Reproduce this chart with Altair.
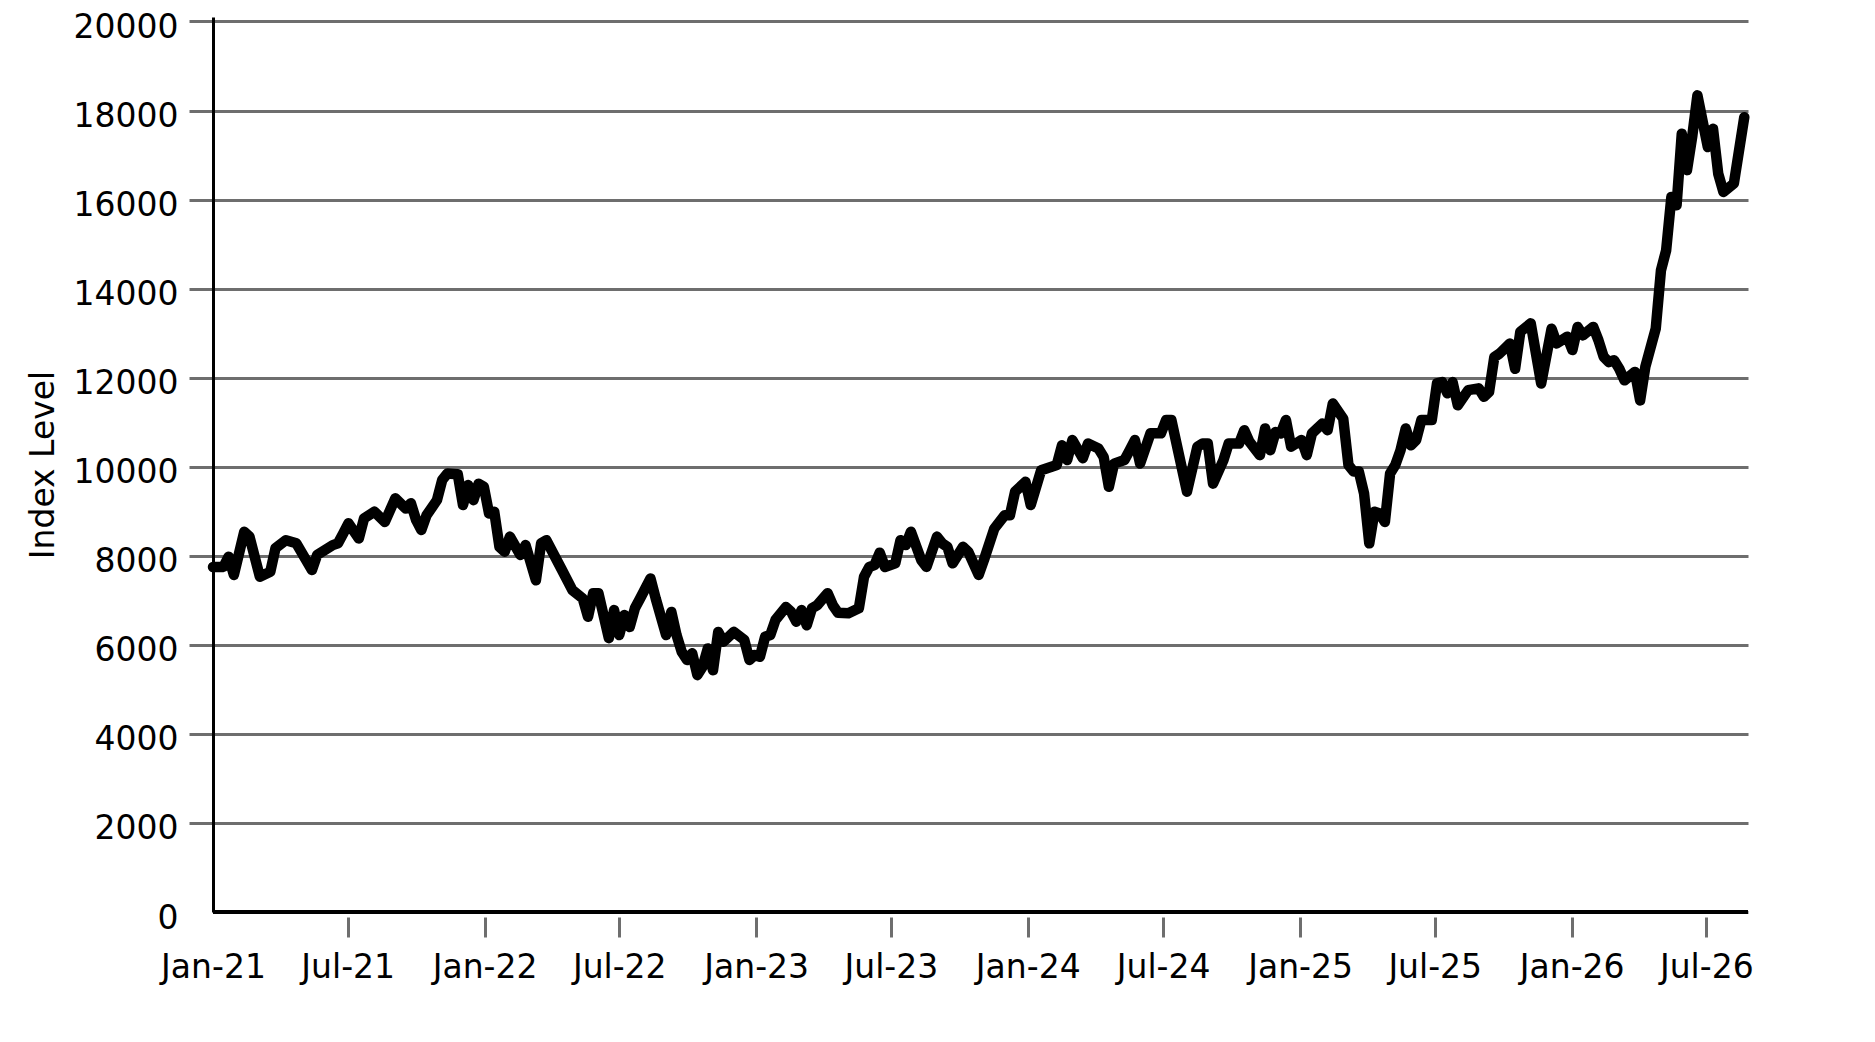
import altair as alt
import pandas as pd

start_date = "2021-01-01"

week_index = [
    0, 2, 3, 4, 6, 7, 9, 11, 12, 14, 16, 19, 20, 23, 24, 25, 26, 28, 29, 31,
    33, 35, 37, 38, 39, 40, 41, 43, 44, 45, 47, 48, 49, 50, 51, 52, 53, 54, 55, 56,
    57, 59, 60, 62, 63, 64, 67, 69, 71, 72, 73, 74, 76, 77, 78, 79, 80, 81, 82, 84,
    85, 87, 88, 89, 90, 91, 92, 93, 94, 95, 96, 97, 98, 100, 102, 103, 104, 105, 106, 107,
    108, 110, 111, 112, 113, 114, 115, 116, 118, 119, 120, 122, 124, 125, 126, 127, 128, 129, 131, 132,
    133, 134, 136, 137, 139, 140, 141, 142, 144, 145, 147, 148, 150, 152, 153, 154, 156, 157, 159, 160,
    162, 163, 164, 165, 167, 168, 170, 171, 172, 173, 175, 176, 177, 178, 180, 182, 183, 184, 187, 189,
    190, 191, 192, 194, 195, 197, 198, 199, 201, 202, 203, 204, 205, 206, 207, 209, 210, 211, 213, 214,
    215, 217, 218, 219, 220, 221, 222, 223, 224, 225, 226, 227, 228, 229, 230, 231, 232, 234, 235, 236,
    237, 238, 239, 241, 243, 244, 245, 246, 247, 249, 250, 251, 253, 255, 257, 258, 260, 261, 262, 263,
    265, 266, 267, 268, 269, 270, 271, 273, 274, 275, 277, 278, 279, 280, 281, 282, 283, 284, 285, 287,
    288, 289, 290, 292, 294,
]

index_level = [
    7750, 7750, 7980, 7570, 8540, 8430, 7530, 7640, 8170, 8350, 8280, 7680, 8020, 8240, 8280, 8500, 8730, 8390, 8840, 8990,
    8760, 9290, 9060, 9180, 8800, 8580, 8910, 9250, 9700, 9850, 9830, 9140, 9590, 9250, 9620, 9550, 8950, 8990, 8200, 8090,
    8430, 8020, 8240, 7450, 8280, 8350, 7680, 7230, 7040, 6630, 7160, 7160, 6150, 6780, 6220, 6670, 6400, 6820, 7040, 7490,
    7040, 6220, 6740, 6220, 5840, 5660, 5810, 5320, 5510, 5920, 5430, 6290, 6070, 6290, 6110, 5660, 5770, 5730, 6180, 6220,
    6560, 6850, 6740, 6520, 6780, 6440, 6820, 6890, 7160, 6890, 6720, 6710, 6820, 7530, 7750, 7790, 8070, 7750, 7830, 8350,
    8240, 8540, 7900, 7750, 8430, 8280, 8200, 7830, 8200, 8090, 7570, 7900, 8610, 8910, 8910, 9440, 9660, 9140, 9920, 9960,
    10040, 10480, 10150, 10600, 10190, 10520, 10410, 10220, 9550, 10070, 10150, 10370, 10600, 10070, 10750, 10750, 11050, 11050, 9440, 10450,
    10520, 10520, 9620, 10150, 10520, 10520, 10820, 10560, 10260, 10860, 10370, 10780, 10750, 11050, 10450, 10600, 10260, 10750, 10970, 10820,
    11420, 11080, 10040, 9890, 9890, 9400, 8280, 8990, 8950, 8760, 9850, 10040, 10370, 10860, 10480, 10600, 11050, 11050, 11870, 11900,
    11650, 11900, 11380, 11720, 11760, 11570, 11680, 12460, 12540, 12770, 12200, 13030, 13220, 11870, 13100, 12770, 12920, 12620, 13140, 12950,
    13140, 12840, 12470, 12350, 12390, 12200, 11940, 12130, 11490, 12240, 13100, 14410, 14860, 16060, 15870, 17480, 16660, 17410, 18340, 17180,
    17590, 16580, 16170, 16360, 17850,
]

x_tick_years = [2021, 2022, 2023, 2024, 2025, 2026]
x_tick_months = [1, 7]
y_ticks = [0, 2000, 4000, 6000, 8000, 10000, 12000, 14000, 16000, 18000, 20000]

dates = pd.Timestamp(start_date) + pd.to_timedelta([7 * w for w in week_index], unit="D")
df = pd.DataFrame({"date": dates.strftime("%Y-%m-%d"), "level": index_level})

x_values = [alt.DateTime(year=y, month=m, date=1, utc=True) for y in x_tick_years for m in x_tick_months]

FONT = "DejaVu Sans"
GRID = "#6e6e6e"

x_enc = alt.X(
    "date:T",
    scale=alt.Scale(
        type="utc",
        domain=[alt.DateTime(year=2021, month=1, date=1, utc=True),
                alt.DateTime(year=2026, month=8, date=26, utc=True)],
        nice=False,
    ),
    axis=alt.Axis(
        values=x_values,
        labelExpr="utcFormat(datum.value, '%b-%y')",
        title=None,
        grid=False,
        domain=False,
        offset=5,
        tickSize=20,
        tickWidth=3,
        tickColor=GRID,
        tickOpacity={"condition": {"test": "datum.value <= 1609459260000", "value": 0}, "value": 1},
        labelFont=FONT,
        labelFontSize=33,
        labelColor="black",
        labelPadding=14,
        labelFlush=False,
        labelOverlap=False,
    ),
)

y_enc = alt.Y(
    "level:Q",
    scale=alt.Scale(domain=[0, 20100], nice=False, zero=True),
    axis=alt.Axis(
        values=y_ticks,
        format="d",
        title="Index Level",
        titleFont=FONT,
        titleFontSize=33,
        titleFontWeight="normal",
        titleColor="black",
        titlePadding=13,
        grid=True,
        gridColor=GRID,
        gridWidth=3,
        gridOpacity=1,
        domain=True,
        domainColor="black",
        domainWidth=3,
        tickSize=24,
        tickWidth=3,
        tickColor=GRID,
        tickOpacity={"condition": {"test": "datum.value == 0", "value": 0}, "value": 1},
        labelFont=FONT,
        labelFontSize=33,
        labelColor="black",
        labelPadding=11,
        labelOffset=6,
        labelFlush=False,
        labelOverlap=False,
    ),
)

line = alt.Chart(df).mark_line(
    color="black", strokeWidth=10.5, strokeJoin="round", strokeCap="round"
).encode(x=x_enc, y=y_enc)

x_axis_line = alt.Chart(df).mark_rule(color="black", strokeWidth=3).encode(
    y=alt.datum(0)
)

chart = alt.layer(line, x_axis_line).properties(
    width=1535,
    height=895,
    autosize=alt.AutoSizeParams(type="none"),
    padding={"left": 205, "top": 9, "right": 30, "bottom": 100},
    background="white",
).configure_view(stroke="transparent")

chart.save("out.html", embed_options={"renderer": "svg", "actions": False})
